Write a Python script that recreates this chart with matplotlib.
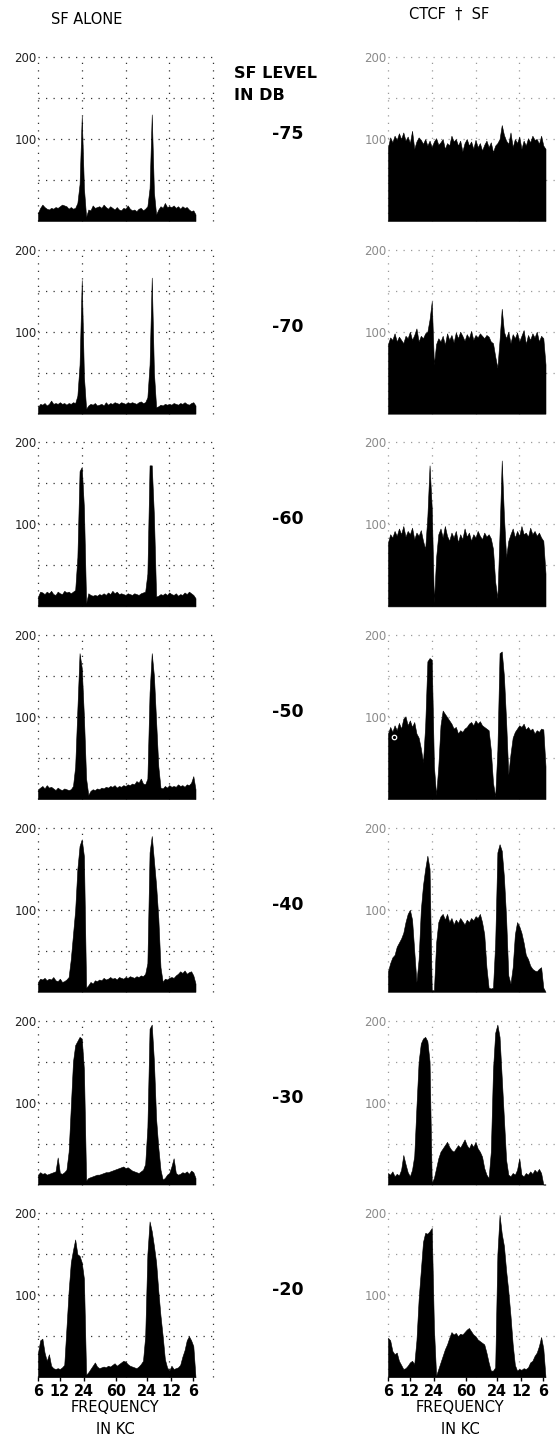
import numpy as np
import matplotlib
matplotlib.use("Agg")
from matplotlib import pyplot as plt

# SF level of each row, top to bottom
sf_levels = ["-75", "-70", "-60", "-50", "-40", "-30", "-20"]

# frequency axis (grid units, 4 grid boxes per panel)
freq_ticks = [0.0, 0.5, 1.05, 1.775, 2.5, 3.05, 3.55]
freq_labels = ["6", "12", "24", "60", "24", "12", "6"]
n_chan = 73
chan_step = 0.05

# ---- SF alone (left column) ----
sf_alone_75 = [10, 16, 20, 17, 15, 14, 16, 15, 17, 16,
               18, 20, 19, 18, 15, 17, 15, 16, 22, 45,
               128, 40, 5, 14, 13, 19, 16, 17, 18, 16,
               20, 17, 15, 18, 16, 14, 17, 14, 13, 16,
               15, 19, 15, 13, 14, 12, 15, 16, 13, 15,
               18, 40, 130, 35, 8, 14, 18, 16, 22, 17,
               18, 17, 19, 16, 18, 15, 18, 16, 17, 14,
               12, 13, 8]
sf_alone_70 = [8, 12, 11, 13, 10, 12, 16, 12, 13, 12,
               14, 12, 13, 11, 13, 12, 14, 13, 22, 60,
               163, 45, 6, 10, 12, 11, 13, 10, 11, 12,
               10, 14, 11, 13, 12, 14, 13, 12, 14, 13,
               12, 14, 13, 14, 13, 12, 14, 15, 13, 14,
               20, 60, 166, 50, 8, 9, 11, 10, 12, 11,
               12, 11, 13, 12, 11, 13, 12, 14, 12, 11,
               13, 14, 10]
sf_alone_60 = [12, 18, 17, 15, 18, 16, 19, 15, 14, 18,
               16, 15, 19, 17, 18, 16, 18, 20, 60, 165,
               170, 120, 4, 16, 14, 13, 14, 13, 15, 14,
               16, 14, 17, 15, 19, 16, 18, 15, 16, 15,
               14, 16, 15, 14, 16, 15, 14, 16, 17, 18,
               40, 172, 172, 110, 12, 13, 15, 14, 16, 14,
               17, 15, 14, 16, 13, 15, 14, 17, 15, 18,
               16, 14, 10]
sf_alone_50 = [12, 14, 16, 13, 17, 14, 15, 13, 11, 14,
               12, 11, 13, 12, 11, 12, 16, 40, 110, 178,
               160, 100, 25, 5, 10, 12, 11, 13, 12, 14,
               13, 15, 14, 16, 15, 17, 14, 16, 15, 17,
               16, 18, 17, 19, 18, 22, 20, 25, 19, 18,
               25, 130, 178, 150, 95, 40, 14, 13, 16, 14,
               17, 15, 16, 15, 18, 16, 17, 15, 18, 17,
               20, 28, 12]
sf_alone_40 = [12, 16, 15, 17, 14, 16, 15, 18, 14, 13,
               16, 12, 13, 15, 18, 40, 70, 100, 150, 178,
               186, 165, 5, 8, 12, 10, 14, 13, 15, 14,
               17, 15, 16, 18, 16, 17, 15, 18, 17, 16,
               18, 17, 19, 18, 17, 19, 18, 20, 19, 22,
               35, 170, 190, 160, 130, 90, 30, 12, 16, 15,
               17, 18, 17, 20, 22, 25, 23, 26, 22, 24,
               25, 20, 10]
sf_alone_30 = [12, 15, 13, 14, 12, 13, 14, 15, 16, 33,
               14, 13, 15, 18, 40, 95, 150, 170, 175, 180,
               178, 140, 5, 8, 9, 10, 11, 12, 12, 13,
               14, 15, 15, 16, 17, 18, 19, 20, 21, 22,
               20, 21, 19, 17, 16, 15, 14, 16, 18, 25,
               70, 190, 195, 150, 80, 45, 18, 6, 8, 12,
               14, 22, 32, 14, 12, 13, 15, 14, 16, 13,
               17, 15, 8]
sf_alone_20 = [30, 45, 47, 30, 20, 28, 14, 11, 10, 11,
               10, 12, 15, 60, 105, 140, 155, 168, 150, 148,
               140, 120, 3, 6, 10, 14, 18, 13, 11, 12,
               13, 12, 14, 13, 15, 17, 14, 16, 18, 20,
               19, 16, 14, 13, 12, 11, 13, 16, 20, 50,
               150, 190, 178, 160, 140, 105, 75, 50, 22, 12,
               8, 14, 10, 11, 12, 15, 25, 33, 45, 50,
               45, 38, 0]

# ---- CTCF + SF (right column) ----
ctcf_sf_75 = [90, 102, 96, 104, 99, 107, 100, 108, 98, 103,
              95, 110, 88, 97, 102, 99, 94, 100, 92, 98,
              90, 97, 101, 93, 96, 100, 88, 95, 92, 104,
              97, 100, 92, 98, 85, 95, 100, 92, 97, 88,
              99, 90, 95, 86, 93, 98, 90, 96, 84, 92,
              95, 100, 117, 105, 98, 94, 108, 90, 100, 95,
              103, 88, 98, 92, 101, 96, 104, 99, 100, 94,
              104, 92, 88]
ctcf_sf_70 = [85, 93, 90, 98, 88, 94, 90, 86, 95, 92,
              100, 90, 96, 104, 88, 95, 92, 98, 100, 115,
              137, 60, 85, 92, 88, 95, 84, 98, 90, 96,
              87, 99, 92, 100, 95, 89, 97, 92, 101, 90,
              96, 93, 98, 95, 92, 96, 94, 88, 86, 70,
              56, 90, 128, 100, 92, 100, 86, 97, 92, 99,
              88, 95, 102, 85, 96, 90, 98, 93, 100, 88,
              95, 92, 60]
ctcf_sf_60 = [78, 88, 84, 92, 86, 95, 88, 98, 85, 92,
              88, 96, 82, 90, 86, 93, 80, 70, 110, 172,
              120, 5, 60, 88, 95, 84, 98, 86, 80, 90,
              84, 92, 78, 88, 82, 95, 85, 90, 80, 88,
              84, 92, 86, 82, 90, 85, 88, 83, 70, 30,
              10, 90, 178, 110, 60, 80, 88, 95, 84, 92,
              86, 98, 88, 90, 85, 96, 88, 92, 86, 90,
              84, 80, 40]
ctcf_sf_50 = [80, 88, 82, 90, 84, 93, 86, 98, 101, 90,
              96, 88, 94, 80, 75, 62, 45, 90, 168, 172,
              170, 40, 5, 40, 90, 108, 104, 100, 96, 92,
              86, 88, 80, 84, 82, 86, 88, 92, 94, 90,
              96, 92, 95, 90, 88, 86, 84, 60, 20, 3,
              60, 178, 180, 150, 95, 30, 55, 75, 82, 86,
              90, 88, 92, 85, 88, 84, 86, 80, 84, 82,
              86, 85, 40]
ctcf_sf_40 = [25, 35, 42, 45, 55, 60, 65, 72, 85, 95,
              100, 88, 50, 12, 40, 100, 130, 150, 166, 150,
              2, 2, 60, 85, 92, 95, 88, 95, 85, 90,
              82, 88, 84, 90, 86, 82, 88, 85, 90, 87,
              92, 90, 95, 85, 70, 30, 5, 4, 5, 60,
              170, 180, 172, 140, 90, 20, 10, 30, 70, 85,
              80, 72, 60, 45, 40, 32, 28, 26, 25, 28,
              30, 5, 0]
ctcf_sf_30 = [14, 12, 16, 10, 13, 11, 18, 36, 25, 15,
              10, 18, 35, 95, 150, 172, 178, 180, 175, 150,
              2, 8, 20, 32, 40, 44, 48, 52, 46, 42,
              40, 44, 48, 45, 50, 55, 48, 44, 50, 46,
              52, 44, 40, 34, 20, 12, 8, 40, 140, 185,
              195, 180, 130, 80, 30, 12, 10, 14, 12, 18,
              32, 12, 10, 14, 12, 16, 13, 18, 15, 19,
              14, 0, 0]
ctcf_sf_20 = [48, 45, 32, 28, 30, 20, 15, 10, 11, 14,
              18, 20, 16, 45, 95, 130, 165, 176, 175, 178,
              182, 60, 2, 10, 18, 26, 34, 40, 48, 55,
              52, 54, 50, 53, 52, 55, 58, 60, 56, 52,
              50, 46, 44, 42, 40, 30, 18, 8, 8, 12,
              150, 198, 175, 160, 130, 105, 75, 40, 15, 8,
              10, 9, 11, 10, 12, 18, 20, 26, 30, 38,
              49, 35, 0]

# small open circle seen inside the -50 CTCF trace
ring_x = [0.14]
ring_y = [76]

sf_alone = [sf_alone_75, sf_alone_70, sf_alone_60, sf_alone_50,
            sf_alone_40, sf_alone_30, sf_alone_20]
ctcf_sf = [ctcf_sf_75, ctcf_sf_70, ctcf_sf_60, ctcf_sf_50,
           ctcf_sf_40, ctcf_sf_30, ctcf_sf_20]

W, H = 560, 1445
fig = plt.figure(figsize=(W / 100, H / 100), dpi=100)
fig.patch.set_facecolor("white")

chan_x = np.arange(n_chan) * chan_step
grid_y = [50, 100, 150, 200]
grid_x = [0, 1, 2, 3, 4]
dots = (0, (1, 5))

panel_w = 175
panel_h = 164
row_top0 = 57
row_pitch = 192.7
col_x0 = [38, 388]
label_col = ["#222222", "#8a8a8a"]
grid_col = ["#333333", "#9a9a9a"]


def add_panel(x0, top, values, side, bottom_row):
    ax = fig.add_axes([x0 / W, 1 - (top + panel_h) / H, panel_w / W, panel_h / H])
    ax.set_xlim(0, 4)
    ax.set_ylim(0, 200)
    for sp in ax.spines.values():
        sp.set_visible(False)
    for gy in grid_y:
        ax.axhline(gy, color=grid_col[side], lw=0.9, ls=dots, clip_on=False, zorder=1)
    for gx in grid_x:
        ax.axvline(gx, color=grid_col[side], lw=0.9, ls=dots, clip_on=False, zorder=1)
    ax.fill_between(chan_x, 0, values, color="black", edgecolor="black",
                    lw=0.4, zorder=3, clip_on=False)
    ax.set_yticks([100, 200])
    ax.set_yticklabels(["100", "200"])
    ax.tick_params(axis="y", length=0, pad=1, labelsize=8.5,
                   labelcolor=label_col[side])
    if bottom_row:
        ax.set_xticks(freq_ticks)
        ax.set_xticklabels(freq_labels, fontsize=11.5, fontweight="bold",
                           fontstretch="condensed")
        ax.tick_params(axis="x", length=3, width=1, pad=2, color="black")
    else:
        ax.set_xticks([])
    return ax


for i, level in enumerate(sf_levels):
    top = row_top0 + row_pitch * i
    last = i == len(sf_levels) - 1
    add_panel(col_x0[0], top, sf_alone[i], 0, last)
    ax_r = add_panel(col_x0[1], top, ctcf_sf[i], 1, last)
    if level == "-50":
        ax_r.plot(ring_x, ring_y, marker="o", ms=3.2, mfc="none", mec="white",
                  mew=0.9, ls="none", zorder=4)
    fig.text(288 / W, 1 - (top + 0.47 * panel_h) / H, level, ha="center",
             va="center", fontsize=12.5, fontweight="bold")

fig.text(87 / W, 1 - 19 / H, "SF ALONE", ha="center", va="center", fontsize=10.5)
fig.text(449 / W, 1 - 14 / H, "CTCF  \u2020  SF", ha="center", va="center", fontsize=10.5)
fig.text(234 / W, 1 - 74 / H, "SF LEVEL", ha="left", va="center", fontsize=11.5,
         fontweight="bold")
fig.text(234 / W, 1 - 95 / H, "IN DB", ha="left", va="center", fontsize=11.5,
         fontweight="bold")

for cx in [115, 460]:
    fig.text(cx / W, 1 - 1407 / H, "FREQUENCY", ha="center", va="center", fontsize=10.5)
    fig.text(cx / W, 1 - 1430 / H, "IN KC", ha="center", va="center", fontsize=10.5)

plt.savefig("out.png", dpi=100, facecolor="white")
plt.close()
